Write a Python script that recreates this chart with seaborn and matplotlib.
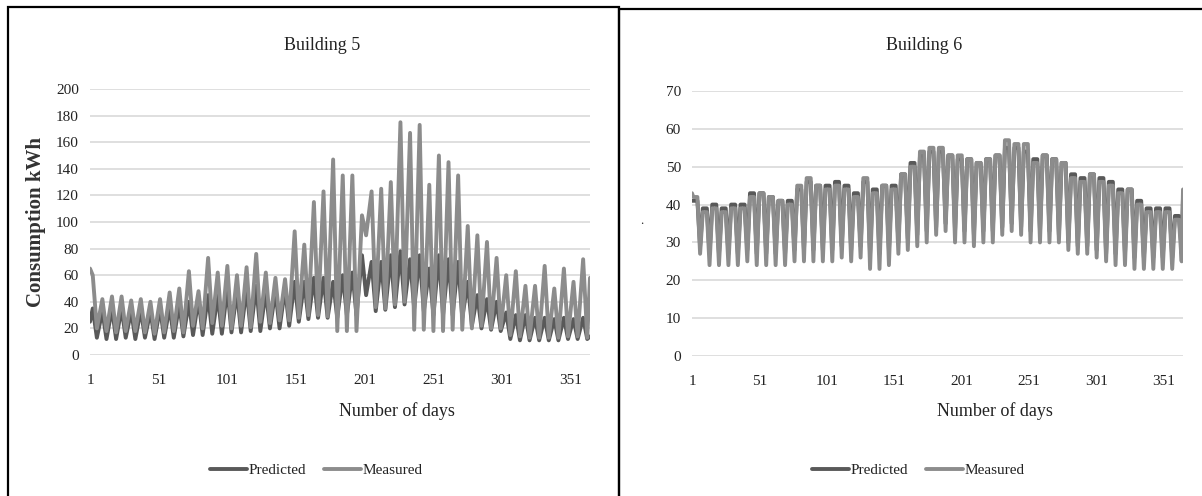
import numpy as np
import pandas as pd
import matplotlib.pyplot as plt
import seaborn as sns
from matplotlib.patches import Rectangle

# Weekly highs (weekday peak) and lows (weekend dip)
# Building 5 - Measured
b5_meas_start, b5_meas_end = 65, 58
b5_meas_high = [60, 42, 44, 44, 41, 42, 40, 42, 47, 50,
                63, 48, 73, 62, 67, 60, 66, 76, 62, 58,
                57, 93, 83, 115, 123, 147, 135, 135, 105, 123,
                125, 130, 175, 167, 173, 128, 150, 145, 135, 97,
                90, 85, 73, 60, 63, 52, 52, 67, 50, 65,
                55, 72]
b5_meas_low = [20, 18, 17, 18, 18, 17, 16, 17, 18, 17,
               22, 20, 24, 22, 20, 22, 21, 25, 24, 26,
               26, 28, 30, 30, 29, 18, 18, 18, 90, 36,
               35, 38, 40, 19, 19, 18, 18, 19, 19, 20,
               22, 20, 20, 15, 14, 13, 13, 13, 13, 14,
               14, 13]

# Building 5 - Predicted
b5_pred_start, b5_pred_end = 25, 14
b5_pred_high = [35, 33, 35, 35, 33, 34, 33, 35, 36, 38,
                40, 42, 45, 45, 50, 48, 50, 52, 48, 48,
                50, 55, 55, 58, 58, 55, 60, 62, 75, 70,
                70, 75, 78, 72, 75, 65, 75, 72, 70, 55,
                45, 42, 40, 32, 30, 30, 28, 28, 27, 28,
                27, 28]
b5_pred_low = [13, 12, 12, 13, 12, 13, 12, 13, 13, 14,
               15, 15, 16, 16, 17, 17, 18, 18, 20, 20,
               22, 25, 27, 28, 28, 28, 30, 30, 45, 33,
               34, 36, 38, 35, 33, 30, 30, 30, 28, 22,
               20, 19, 18, 12, 11, 11, 11, 11, 11, 12,
               12, 12]

# Building 6 - Measured
b6_meas_start, b6_meas_end = 43, 44
b6_meas_high = [42, 38, 39, 38, 39, 39, 42, 43, 42, 41,
                40, 45, 47, 45, 44, 45, 44, 42, 47, 43,
                45, 44, 48, 50, 54, 55, 55, 53, 53, 52,
                51, 52, 53, 57, 56, 56, 51, 53, 52, 51,
                47, 46, 48, 46, 45, 43, 44, 40, 38, 38,
                38, 36]
b6_meas_low = [27, 24, 24, 24, 24, 25, 24, 24, 24, 24,
               25, 25, 25, 25, 25, 26, 25, 26, 23, 23,
               24, 27, 28, 29, 30, 32, 33, 30, 30, 29,
               30, 30, 32, 33, 32, 30, 30, 30, 30, 28,
               27, 27, 26, 25, 24, 24, 23, 23, 23, 23,
               23, 25]

# Building 6 - Predicted
b6_pred_start, b6_pred_end = 41, 42
b6_pred_high = [41, 39, 40, 39, 40, 40, 43, 43, 42, 41,
                41, 44, 46, 45, 45, 46, 45, 43, 46, 44,
                45, 45, 48, 51, 53, 54, 54, 53, 52, 52,
                51, 52, 53, 55, 55, 54, 52, 53, 52, 51,
                48, 47, 48, 47, 46, 44, 44, 41, 39, 39,
                39, 37]
b6_pred_low = [29, 27, 27, 27, 27, 28, 27, 27, 27, 27,
               28, 28, 28, 28, 28, 29, 28, 29, 27, 27,
               28, 30, 31, 32, 33, 34, 35, 33, 33, 32,
               33, 33, 34, 35, 34, 33, 33, 33, 32, 30,
               29, 29, 28, 27, 27, 27, 26, 26, 26, 26,
               26, 28]

tick_days = [1, 51, 101, 151, 201, 251, 301, 351]
series_names = ["Predicted", "Measured"]
series_colors = {"Predicted": "#595959", "Measured": "#8c8c8c"}
text_color = "#222222"


def weekly_to_frame(name, start, high, low, end, plateau=False):
    # weekday peak, weekend dip
    days = [1]
    vals = [start]
    for k in range(len(high)):
        if plateau:
            days += [7 * k + 2, 7 * k + 5, 7 * k + 7]
            vals += [high[k], high[k], low[k]]
        else:
            days += [7 * k + 3, 7 * k + 6]
            vals += [high[k], low[k]]
    days.append(365)
    vals.append(end)
    return pd.DataFrame({"day": days, "value": vals, "series": name})


df5 = pd.concat([
    weekly_to_frame("Predicted", b5_pred_start, b5_pred_high, b5_pred_low, b5_pred_end),
    weekly_to_frame("Measured", b5_meas_start, b5_meas_high, b5_meas_low, b5_meas_end),
])
df6 = pd.concat([
    weekly_to_frame("Predicted", b6_pred_start, b6_pred_high, b6_pred_low, b6_pred_end, True),
    weekly_to_frame("Measured", b6_meas_start, b6_meas_high, b6_meas_low, b6_meas_end, True),
])

sns.set_style("white")
plt.rcParams["font.family"] = ["Liberation Serif", "DejaVu Serif"]

W, H = 1202, 496
fig = plt.figure(figsize=(W / 100, H / 100), dpi=100)


def px_axes(x0, x1, y_top, y_bot):
    return fig.add_axes([x0 / W, 1 - y_bot / H, (x1 - x0) / W, (y_bot - y_top) / H])


panels = [
    (df5, "Building 5", (90, 590, 89, 355), 200, 20, 316),
    (df6, "Building 6", (692, 1183, 91, 356), 70, 10, 918),
]

for df, title, (x0, x1, yt, yb), ymax, ystep, cx in panels:
    ax = px_axes(x0, x1, yt, yb)
    sns.lineplot(data=df, x="day", y="value", hue="series", hue_order=series_names,
                 palette=series_colors, linewidth=2.8, legend=False, ax=ax)
    ax.set_xlim(1, 365)
    ax.set_ylim(0, ymax)
    ax.set_yticks(np.arange(0, ymax + 1, ystep))
    ax.set_xticks(tick_days)
    ax.set_xticklabels([str(d) for d in tick_days])
    ax.grid(axis="y", color="#d9d9d9", linewidth=1.2)
    ax.set_axisbelow(True)
    for s in ax.spines.values():
        s.set_visible(False)
    ax.tick_params(axis="x", length=0, pad=14, labelsize=11, labelcolor=text_color)
    ax.tick_params(axis="y", length=0, pad=8, labelsize=11, labelcolor=text_color)
    ax.set_xlabel("")
    ax.set_ylabel("")

    fig.text(cx / W + 0.005, 1 - 46 / H, title, ha="center", va="center",
             fontsize=13, color=text_color)
    fig.text(((x0 + x1) / 2 + 57) / W, 1 - 411 / H, "Number of days",
             ha="center", va="center", fontsize=13, color=text_color)

    handles = ax.lines[:2]
    leg = ax.legend(handles, series_names, loc="center", bbox_to_anchor=(cx / W, 1 - 470 / H),
                    bbox_transform=fig.transFigure, ncol=2, frameon=False, fontsize=11,
                    handlelength=2.4, handletextpad=0.1, columnspacing=1.2)
    for t in leg.get_texts():
        t.set_color(text_color)

# y-axis labels
fig.text(36 / W, 1 - 222 / H, "Consumption kWh", rotation=90, ha="center", va="center",
         fontsize=15, fontweight="bold", color="#333333")
fig.text(642 / W, 1 - 221 / H, ".", ha="center", va="center", fontsize=9)

# panel frames
fig.patches.append(Rectangle((8 / W, -0.1), (619 - 8) / W, 1.1 - 7 / H,
                             transform=fig.transFigure, fill=False, edgecolor="black",
                             linewidth=1.6))
fig.patches.append(Rectangle((619 / W, -0.1), 0.5, 1.1 - 9 / H,
                             transform=fig.transFigure, fill=False, edgecolor="black",
                             linewidth=1.6))

plt.savefig("out.png", dpi=100)
